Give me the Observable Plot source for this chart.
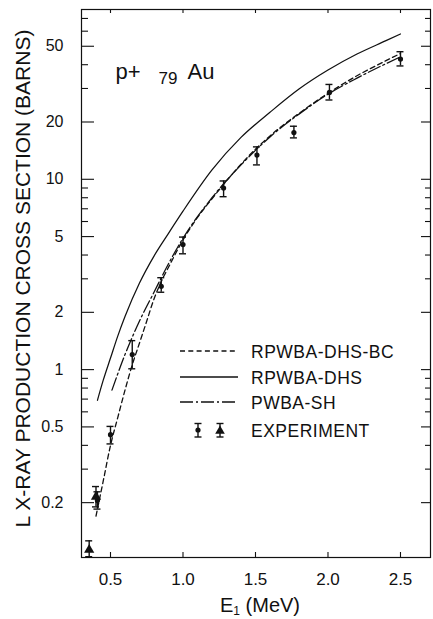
<!DOCTYPE html>
<html>
<head>
<meta charset="utf-8">
<script src="https://cdn.jsdelivr.net/npm/d3@7"></script>
<script src="https://cdn.jsdelivr.net/npm/@observablehq/plot@0.6"></script>
<style>
  html, body { margin: 0; padding: 0; background: white; }
  svg { display: block; }
</style>
</head>
<body>
<div id="chart"></div>
<script>
// ---- Data ----
const energyDHS = [0.41, 0.45, 0.5, 0.55, 0.6, 0.7, 0.8, 0.9, 1.0, 1.2, 1.4, 1.6, 1.8, 2.0, 2.2, 2.4, 2.5];
const sigmaDHS  = [0.69, 0.88, 1.15, 1.5, 1.9, 2.85, 3.95, 5.2, 6.8, 11.2, 16.6, 22.5, 29.8, 37.5, 45.5, 53.5, 58];

const energyBC = [0.40, 0.45, 0.5, 0.55, 0.6, 0.65, 0.7, 0.75, 0.8, 0.85, 0.9, 1.0, 1.1, 1.2, 1.3, 1.4, 1.5, 1.6, 1.8, 2.0, 2.2, 2.4, 2.5];
const sigmaBC  = [0.17, 0.26, 0.40, 0.56, 0.78, 1.06, 1.38, 1.8, 2.35, 2.9, 3.45, 4.8, 6.3, 7.9, 9.8, 12.0, 14.4, 16.9, 22.2, 28.3, 35.0, 42.0, 45.8];

const energyPW = [0.51, 0.55, 0.6, 0.65, 0.7, 0.8, 0.9, 1.0, 1.2, 1.4, 1.6, 1.8, 2.0, 2.2, 2.4, 2.5];
const sigmaPW  = [0.78, 0.95, 1.2, 1.48, 1.8, 2.55, 3.6, 4.9, 8.0, 11.9, 16.7, 22.0, 28.0, 34.0, 40.5, 44.0];

const expE     = [0.41, 0.5, 0.65, 0.85, 1.0, 1.28, 1.51, 1.765, 2.01, 2.5];
const expSigma = [0.205, 0.455, 1.2, 2.74, 4.54, 9.0, 13.4, 17.6, 28.6, 42.8];
const expLo    = [0.185, 0.407, 1.01, 2.55, 4.06, 8.1, 11.9, 16.5, 26.1, 39.4];
const expHi    = [0.228, 0.503, 1.42, 3.04, 4.97, 9.8, 14.8, 19.0, 31.5, 46.8];

const triE     = [0.353, 0.40];
const triSigma = [0.113, 0.215];
const triLo    = [0.104, 0.19];
const triHi    = [0.126, 0.243];

const xTicks  = [0.5, 1.0, 1.5, 2.0, 2.5];
const xLabels = ["0.5", "1.0", "1.5", "2.0", "2.5"];
const yMajor  = [0.2, 0.5, 1, 2, 5, 10, 20, 50];
const yLabels = ["0.2", "0.5", "1", "2", "5", "10", "20", "50"];
const yMinor  = [0.3, 0.4, 0.6, 0.7, 0.8, 0.9, 3, 4, 6, 7, 8, 9, 30, 40, 60, 70];

const seriesNames = ["RPWBA-DHS-BC", "RPWBA-DHS", "PWBA-SH", "EXPERIMENT"];
const yTitle = "L X-RAY PRODUCTION CROSS SECTION (BARNS)";

// ---- Build tables ----
const zipXY = (xs, ys) => xs.map((x, i) => ({e: x, v: ys[i]}));
const dhs = zipXY(energyDHS, sigmaDHS);
const bc = zipXY(energyBC, sigmaBC);
const pw = zipXY(energyPW, sigmaPW);
const circles = expE.map((e, i) => ({e, v: expSigma[i], lo: expLo[i], hi: expHi[i]}));
const tris = triE.map((e, i) => ({e, v: triSigma[i], lo: triLo[i], hi: triHi[i]}));
const yTickTable = yMajor.map((v, i) => ({v, label: yLabels[i]}));

const W = 433, H = 619;
const mL = 81, mR = 3, mT = 9, mB = 62;
const pW = W - mL - mR, pH = H - mT - mB;
const FONT = "'Liberation Sans', Arial, Helvetica, sans-serif";
const INK = "#111";

const dashBC = "5,3.3";
const dashPW = "13,3,2,3";

const errMarks = (data) => [
  Plot.ruleX(data, {x: "e", y1: "lo", y2: "hi", stroke: INK, strokeWidth: 1.4}),
  Plot.ruleY(data, {y: "hi", x1: "e", x2: "e", insetLeft: -3.5, insetRight: -3.5, stroke: INK, strokeWidth: 1.4}),
  Plot.ruleY(data, {y: "lo", x1: "e", x2: "e", insetLeft: -3.5, insetRight: -3.5, stroke: INK, strokeWidth: 1.4})
];

const chart = Plot.plot({
  width: W, height: H,
  marginLeft: mL, marginRight: mR, marginTop: mT, marginBottom: mB,
  style: {fontFamily: FONT, fontSize: "16px", background: "white", color: INK},
  x: {domain: [0.30, 2.707]},
  y: {type: "log", domain: [0.103, 78], axis: null},
  marks: [
    Plot.frame({stroke: INK, strokeWidth: 1.2}),
    // inward ticks
    Plot.tickY(yMajor, {y: d => d, insetRight: pW - 13, stroke: INK, strokeWidth: 1.1}),
    Plot.tickY(yMinor, {y: d => d, insetRight: pW - 7, stroke: INK, strokeWidth: 1.1}),
    Plot.tickY(yMajor, {y: d => d, insetLeft: pW - 9, stroke: INK, strokeWidth: 1.1}),
    Plot.tickY(yMinor, {y: d => d, insetLeft: pW - 5, stroke: INK, strokeWidth: 1.1}),
    Plot.tickX(xTicks, {x: d => d, insetTop: pH - 5, stroke: INK, strokeWidth: 1.1}),
    Plot.tickX(xTicks, {x: d => d, insetBottom: pH - 4, stroke: INK, strokeWidth: 1.1}),
    // tick labels
    Plot.text(yTickTable, {y: "v", text: "label", frameAnchor: "left", textAnchor: "end", dx: -18, fontSize: 16, fill: INK}),
    Plot.axisX({ticks: xTicks, tickSize: 0, tickPadding: 15, tickFormat: d => xLabels[d3.minIndex(xTicks, v => Math.abs(v - d))], label: null, fontSize: 17}),
    Plot.text([yTitle], {text: d => d, frameAnchor: "left", textAnchor: "middle", lineAnchor: "middle", rotate: -90, dx: -58.5, dy: -5, fontSize: 21, fill: INK, ariaLabel: "ytitle"}),
    // title
    Plot.text(["p+"], {text: d => d, frameAnchor: "top-left", textAnchor: "start", lineAnchor: "bottom", dx: 34, dy: 69, fontSize: 22, fill: INK}),
    Plot.text(["79"], {text: d => d, frameAnchor: "top-left", textAnchor: "start", lineAnchor: "bottom", dx: 77, dy: 74, fontSize: 17, fill: INK, ariaLabel: "z"}),
    Plot.text(["Au"], {text: d => d, frameAnchor: "top-left", textAnchor: "start", lineAnchor: "bottom", dx: 106, dy: 69, fontSize: 22, fill: INK, ariaLabel: "au"}),
    // theory curves
    Plot.line(dhs, {x: "e", y: "v", stroke: INK, strokeWidth: 1.25, curve: "monotone-x"}),
    Plot.line(bc, {x: "e", y: "v", stroke: INK, strokeWidth: 1.3, strokeDasharray: dashBC, curve: "monotone-x"}),
    Plot.line(pw, {x: "e", y: "v", stroke: INK, strokeWidth: 1.3, strokeDasharray: dashPW, curve: "monotone-x"}),
    // experiment
    ...errMarks(circles),
    ...errMarks(tris),
    Plot.dot(circles, {x: "e", y: "v", r: 2.6, fill: INK, stroke: "none"}),
    Plot.dot(tris, {x: "e", y: "v", r: 3.8, symbol: "triangle", fill: INK, stroke: "none"})
  ]
});

document.getElementById("chart").appendChild(chart);

const svg = d3.select(chart);
svg.selectAll('g[aria-label="ytitle"] text').style("letter-spacing", "1px");
svg.selectAll('g[aria-label="z"] text').style("letter-spacing", "2px");
svg.selectAll('g[aria-label="au"] text').style("letter-spacing", "2px");

// x-axis title with subscript
const xt = svg.append("text")
  .attr("x", 220).attr("y", 612)
  .attr("text-anchor", "start")
  .attr("font-family", FONT).attr("font-size", 20).attr("fill", INK);
xt.append("tspan").text("E");
xt.append("tspan").attr("font-size", 12).attr("dy", 3).text("1");
xt.append("tspan").attr("dy", -3).text(" (MeV)");

// legend
const lg = svg.append("g").attr("font-family", FONT).attr("font-size", 17.5)
  .attr("text-anchor", "start").attr("fill", INK);
const rowsY = [351, 377, 402, 430];
const dashes = [dashBC, null, dashPW];
dashes.forEach((d, i) => {
  const ln = lg.append("line").attr("x1", 180).attr("x2", 238)
    .attr("y1", rowsY[i]).attr("y2", rowsY[i])
    .attr("stroke", INK).attr("stroke-width", 1.3);
  if (d) ln.attr("stroke-dasharray", d);
});
seriesNames.forEach((name, i) => {
  lg.append("text").attr("x", 251).attr("y", rowsY[i] + 6.5)
    .attr("text-anchor", "start")
    .style("letter-spacing", "0.5px").text(name);
});
[198, 220].forEach((cx, k) => {
  const y0 = rowsY[3];
  lg.append("line").attr("x1", cx).attr("x2", cx).attr("y1", y0 - 6.5).attr("y2", y0 + 7).attr("stroke", INK).attr("stroke-width", 1.4);
  lg.append("line").attr("x1", cx - 3.5).attr("x2", cx + 3.5).attr("y1", y0 - 6.5).attr("y2", y0 - 6.5).attr("stroke", INK).attr("stroke-width", 1.4);
  lg.append("line").attr("x1", cx - 3.5).attr("x2", cx + 3.5).attr("y1", y0 + 7).attr("y2", y0 + 7).attr("stroke", INK).attr("stroke-width", 1.4);
  if (k === 0) {
    lg.append("circle").attr("cx", cx).attr("cy", y0).attr("r", 2.6).attr("fill", INK);
  } else {
    lg.append("path").attr("d", d3.symbol(d3.symbolTriangle, 40)()).attr("transform", `translate(${cx},${y0 + 1})`).attr("fill", INK);
  }
});
</script>
</body>
</html>
